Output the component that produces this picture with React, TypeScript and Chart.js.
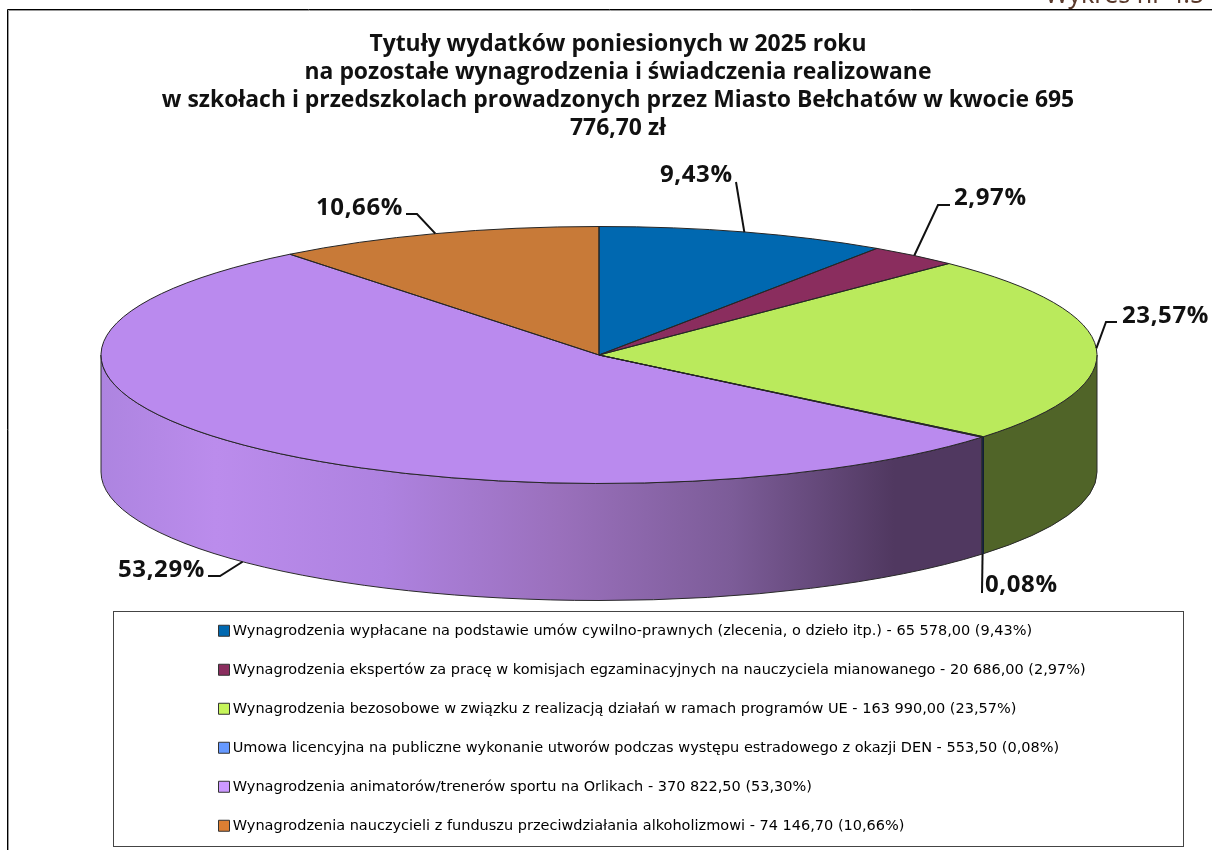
import React, { useEffect, useRef } from "react";
import { Chart, registerables } from "chart.js";

Chart.register(...registerables);

const titleLines = [
  "Tytuły wydatków poniesionych w 2025 roku",
  "na pozostałe wynagrodzenia i świadczenia realizowane",
  "w szkołach i przedszkolach prowadzonych przez Miasto Bełchatów w kwocie 695",
  "776,70 zł",
];
const legendLabels = [
  "Wynagrodzenia wypłacane na podstawie umów cywilno-prawnych (zlecenia, o dzieło itp.) - 65 578,00 (9,43%)",
  "Wynagrodzenia ekspertów za pracę w komisjach egzaminacyjnych na nauczyciela mianowanego - 20 686,00 (2,97%)",
  "Wynagrodzenia bezosobowe w związku z realizacją działań w ramach programów UE - 163 990,00 (23,57%)",
  "Umowa licencyjna na publiczne wykonanie utworów podczas występu estradowego z okazji DEN - 553,50 (0,08%)",
  "Wynagrodzenia animatorów/trenerów sportu na Orlikach - 370 822,50 (53,30%)",
  "Wynagrodzenia nauczycieli z funduszu przeciwdziałania alkoholizmowi - 74 146,70 (10,66%)",
];
const amounts = [65578, 20686, 163990, 553.5, 370822.5, 74146.7];
const percentLabels = ["9,43%", "2,97%", "23,57%", "0,08%", "53,29%", "10,66%"];
const sliceColors = ["#0068b0", "#8a2d5e", "#baea5c", "#6699ff", "#ba8aee", "#c87a38"];
const legendColors = ["#0068b0", "#8a2d5e", "#c6f55a", "#6699ff", "#cc99ff", "#dd7f33"];
const wallColors = ["#003a62", "#4d1934", "#506428", "#1d2c4d"];

// label placement: text start, text baseline, and optional leader bend / leader end
const labelPlaces = [
  { tx: 660, ty: 182, end: [736, 182] },
  { tx: 954, ty: 205, bend: [938, 205], end: [950, 205] },
  { tx: 1122, ty: 323, bend: [1106, 322], end: [1117, 322] },
  { tx: 985, ty: 592, end: [982, 593] },
  { tx: 118, ty: 577, bend: [220, 576], end: [208, 576] },
  { tx: 316, ty: 215, bend: [417, 214], end: [406, 214] },
];

const PIE_RADIUS = 498;
const CENTER_X = 599;
const CENTER_Y = 355;
const SQUASH = 128.5 / 498;
const DEPTH = 117;
const TITLE_FONT = "'Open Sans'";
const BODY_FONT = "'Noto Sans'";

function ellipsePath(ctx: any, a: any, start: number, end: number, dy = 0, ccw = false) {
  ctx.ellipse(a.x, a.y + dy, a.outerRadius, a.outerRadius * SQUASH, 0, start, end, ccw);
}

const pie3d = {
  id: "pie3d",
  afterLayout(chart: any) {
    chart.chartArea = {
      left: CENTER_X - 599, right: CENTER_X + 599, top: CENTER_Y - 355, bottom: CENTER_Y + 355,
      width: 1198, height: 710,
    };
    const t = chart.titleBlock;
    t.left = 0; t.right = 1236; t.width = 1236; t.top = 30; t.bottom = 150;
    const l = chart.legend;
    l.left = 198; l.right = 1212; l.width = 1014; l.top = 599; l.bottom = 846;
  },
  beforeDraw(chart: any) {
    const ctx = chart.ctx;
    ctx.save();
    ctx.fillStyle = "#ffffff";
    ctx.fillRect(0, 0, chart.width, chart.height);
    ctx.fillStyle = "#5a3a2c";
    ctx.font = `25px ${BODY_FONT}`;
    ctx.textBaseline = "alphabetic";
    ctx.fillText("Wykres nr 4.5", 1045, 3);
    ctx.strokeStyle = "#000000";
    ctx.lineWidth = 1;
    ctx.beginPath();
    ctx.moveTo(7.5, 850); ctx.lineTo(7.5, 9.5); ctx.lineTo(1212, 9.5);
    ctx.stroke();
    ctx.strokeStyle = "#999999";
    ctx.beginPath();
    ctx.moveTo(8.5, 850); ctx.lineTo(8.5, 10.5); ctx.lineTo(1212, 10.5);
    ctx.stroke();
    ctx.strokeStyle = "#444444";
    ctx.strokeRect(113.5, 611.5, 1070, 235);
    ctx.restore();
  },
  beforeDatasetsDraw(chart: any) {
    const ctx = chart.ctx;
    const arcs = chart.getDatasetMeta(0).data;
    arcs.forEach((a: any, i: number) => {
      const s = Math.max(a.startAngle, 0);
      const e = Math.min(a.endAngle, Math.PI);
      if (e <= s) return;
      ctx.save();
      ctx.beginPath();
      ellipsePath(ctx, a, s, e);
      ellipsePath(ctx, a, e, s, DEPTH, true);
      ctx.closePath();
      if (i === 4) {
        const g = ctx.createLinearGradient(a.x - a.outerRadius, 0, a.x + a.outerRadius * 0.77, 0);
        g.addColorStop(0, "#ad84e0");
        g.addColorStop(0.13, "#bb8cec");
        g.addColorStop(0.32, "#ae82e0");
        g.addColorStop(0.52, "#9a70bc");
        g.addColorStop(0.716, "#7c5c98");
        g.addColorStop(0.9, "#503860");
        g.addColorStop(1, "#503860");
        ctx.fillStyle = g;
      } else {
        ctx.fillStyle = wallColors[i] ?? "#333333";
      }
      ctx.fill();
      ctx.strokeStyle = i === 3 ? "#111b33" : "#2a2a2a";
      ctx.lineWidth = 1;
      ctx.stroke();
      ctx.restore();
    });
  },
  beforeDatasetDraw(chart: any) {
    const ctx = chart.ctx;
    ctx.save();
    ctx.translate(0, CENTER_Y);
    ctx.scale(1, SQUASH);
    ctx.translate(0, -CENTER_Y);
  },
  afterDatasetDraw(chart: any) {
    chart.ctx.restore();
  },
  afterDatasetsDraw(chart: any) {
    const ctx = chart.ctx;
    const arcs = chart.getDatasetMeta(0).data;
    ctx.save();
    arcs.forEach((a: any) => {
      ctx.beginPath();
      ctx.moveTo(a.x, a.y);
      ellipsePath(ctx, a, a.startAngle, a.endAngle);
      ctx.closePath();
      ctx.strokeStyle = "#262626";
      ctx.lineWidth = 1;
      ctx.stroke();
    });
    arcs.forEach((a: any, i: number) => {
      const place = labelPlaces[i];
      const mid = (a.startAngle + a.endAngle) / 2;
      const px = a.x + a.outerRadius * Math.cos(mid);
      const py = a.y + a.outerRadius * SQUASH * Math.sin(mid) + (Math.sin(mid) > 0 ? DEPTH : 0);
      ctx.beginPath();
      ctx.moveTo(px, py);
      if (place.bend) ctx.lineTo(place.bend[0], place.bend[1]);
      ctx.lineTo(place.end[0], place.end[1]);
      ctx.strokeStyle = "#111111";
      ctx.lineWidth = 2;
      ctx.stroke();
      ctx.fillStyle = "#111111";
      ctx.font = `bold 24px ${TITLE_FONT}`;
      (ctx as any).letterSpacing = "0.6px";
      ctx.textAlign = "left";
      ctx.textBaseline = "alphabetic";
      ctx.fillText(percentLabels[i], place.tx, place.ty);
      (ctx as any).letterSpacing = "0px";
    });
    ctx.restore();
  },
};

export default function App() {
  const ref = useRef<HTMLCanvasElement | null>(null);
  useEffect(() => {
    const chart = new Chart(ref.current as HTMLCanvasElement, {
      type: "pie",
      data: {
        labels: legendLabels,
        datasets: [
          {
            data: amounts,
            backgroundColor: sliceColors,
            borderWidth: 0,
            radius: PIE_RADIUS,
            clip: false,
          } as any,
        ],
      },
      options: {
        responsive: false,
        animation: false,
        plugins: {
          tooltip: { enabled: false },
          title: {
            display: true,
            text: titleLines,
            color: "#111111",
            font: { family: "'Open Sans'", size: 22.9, weight: "bold", lineHeight: 1.23 },
            padding: 0,
          },
          legend: {
            position: "bottom",
            align: "start",
            labels: {
              boxWidth: 3,
              boxHeight: 11,
              padding: 24.5,
              usePointStyle: true,
              pointStyle: "rect",
              color: "#1a1a1a",
              font: { family: "'DejaVu Sans'", size: 14.5 },
              generateLabels: () =>
                legendLabels.map((text, i) => ({
                  text,
                  fillStyle: legendColors[i],
                  strokeStyle: "#333333",
                  lineWidth: 1,
                  pointStyle: "rect",
                  hidden: false,
                  index: i,
                })),
            },
          },
        },
      } as any,
      plugins: [pie3d],
    });
    return () => chart.destroy();
  }, []);
  return (
    <div style={{ position: "absolute", left: 0, top: 0 }}>
      <canvas ref={ref} width={1212} height={850} style={{ display: "block" }} />
    </div>
  );
}
